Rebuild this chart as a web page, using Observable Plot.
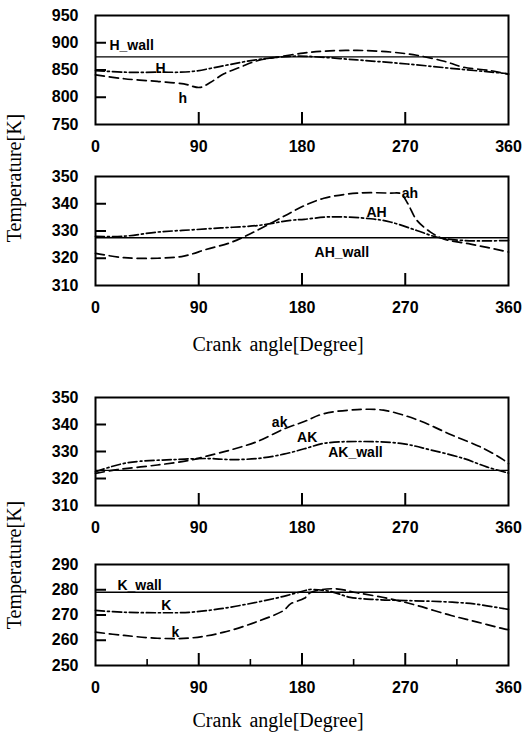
<!DOCTYPE html>
<html><head><meta charset="utf-8">
<script src="https://cdn.jsdelivr.net/npm/d3@7"></script>
<script src="https://cdn.jsdelivr.net/npm/@observablehq/plot@0.6"></script>
<style>
body{margin:0;background:#fff;}
#c{position:relative;width:522px;height:737px;overflow:hidden;background:#fff;}
.p{position:absolute;left:0;}
.t{position:absolute;font-family:"Liberation Serif","DejaVu Serif",serif;font-size:20px;color:#000;white-space:nowrap;line-height:1;word-spacing:3px;}
</style></head><body><div id="c"></div><script>
// ---------- data ----------
const xTickLabels = [0, 90, 180, 270, 360];
const xInnerTicks = [90, 180, 270];
const xMinorTicks = [45, 135, 225, 315];

// Panel 1: H / h
const p1YTicks = [750, 800, 850, 900, 950];
const p1YInner = [800, 850, 900];
const hWall = 874;
const HAngle = [0, 25, 54, 83, 112, 132, 150, 170, 185, 228, 272, 315, 356, 360];
const HTemp  = [849, 846, 846, 847, 858, 866, 871.5, 875, 875, 868.5, 861, 852, 844, 843];
const hAngle = [0, 25, 54, 77, 91, 100, 112, 126, 141, 158, 181, 199, 228, 257, 280, 304, 321, 344, 360];
const hTemp  = [841, 834, 829, 824.5, 818, 827, 843, 855, 867, 873.5, 881, 884.5, 886, 883, 877, 866, 855, 849, 842];
const p1LabelText = ["H_wall", "H", "h"];
const p1LabelX = [31.5, 56.7, 76];
const p1LabelY = [895, 852, 798];

// Panel 2: AH / ah
const p2YTicks = [310, 320, 330, 340, 350];
const p2YInner = [320, 330, 340];
const ahWall = 327.5;
const AHAngle = [0, 25, 54, 83, 112, 141, 170, 182, 205, 240, 257, 280, 298, 321, 360];
const AHTemp  = [328, 328.1, 329.6, 330.4, 331.2, 332, 333.9, 334.3, 335.2, 334.5, 333.3, 330.2, 327.7, 326.5, 326.5];
const ahAngle = [0, 25, 54, 77, 97, 118, 135, 155, 170, 182, 199, 228, 257, 266, 272, 280, 292, 304, 327, 360];
const ahTemp  = [321.8, 320.2, 320, 320.8, 323.3, 325.8, 329, 333.3, 336.7, 339.3, 342, 343.9, 343.9, 343.7, 340.2, 334, 329.6, 327, 325.2, 322.3];
const p2LabelText = ["ah", "AH", "AH_wall"];
const p2LabelX = [274, 245, 214.7];
const p2LabelY = [343.6, 336.9, 322.2];

// Panel 3: AK / ak
const p3YTicks = [310, 320, 330, 340, 350];
const p3YInner = [320, 330, 340];
const akWall = 323;
const AKAngle = [0, 13, 25, 39, 68, 97, 118, 141, 164, 182, 199, 228, 266, 292, 321, 341, 360];
const AKTemp  = [322.5, 324.3, 325.6, 326.4, 327, 327.4, 327, 327.4, 329, 331, 333, 333.7, 333, 330.6, 327.4, 324.3, 322];
const akAngle = [0, 19, 54, 83, 97, 118, 141, 164, 182, 199, 228, 251, 280, 310, 338, 356, 360];
const akTemp  = [321.9, 323.3, 325, 326.8, 328.3, 330.6, 333.7, 338.3, 341.1, 344, 345.5, 345.3, 341.8, 336.2, 331.2, 326.8, 325.5];
const p3LabelText = ["ak", "AK", "AK_wall"];
const p3LabelX = [160.5, 184.5, 226.6];
const p3LabelY = [340.9, 335.3, 329.7];

// Panel 4: K / k
const p4YTicks = [250, 260, 270, 280, 290];
const p4YInner = [260, 270, 280];
const kWall = 279;
const KAngle = [0, 25, 54, 83, 112, 141, 164, 182, 187, 205, 222, 245, 272, 301, 330, 356, 360];
const KTemp  = [271.8, 271.1, 270.9, 271.1, 272.7, 275.1, 277.4, 279.6, 280.1, 279.3, 277, 276.1, 275.7, 275.3, 274.4, 272.5, 272.2];
const kAngle = [0, 25, 54, 83, 112, 141, 164, 170, 182, 188, 208, 228, 257, 280, 310, 333, 356, 360];
const kTemp  = [263.2, 261.9, 260.8, 260.9, 263.2, 267.4, 271.8, 274.4, 276.6, 279, 280.4, 278.8, 276.4, 273.8, 269.8, 267.2, 264.5, 264.2];
const p4LabelText = ["K_wall", "K", "k"];
const p4LabelX = [38.4, 61.8, 69.7];
const p4LabelY = [281.7, 273.8, 263.2];

// ---------- drawing ----------
const C = document.getElementById("c");
const zip = (a, b) => a.map((x, i) => ({x, y: b[i]}));
const DASH = "9,5";
const DASHDOT = "9,3,2,3";
const W = 522, ML = 95, MR = 14, PW = W - ML - MR;

function panel(o) {
  const mb = 45;
  const labels = o.labelText.map((t, i) => ({t, x: o.labelX[i], y: o.labelY[i]}));
  const marks = [
    Plot.ruleY([o.wall], {stroke: "#000", strokeWidth: 1.4}),
    Plot.line(zip(o.dashX, o.dashY), {x: "x", y: "y", curve: "catmull-rom", stroke: "#000", strokeWidth: 1.7, strokeDasharray: DASH}),
    Plot.line(zip(o.ddX, o.ddY), {x: "x", y: "y", curve: "catmull-rom", stroke: "#000", strokeWidth: 1.7, strokeDasharray: DASHDOT}),
    Plot.text(labels, {x: "x", y: "y", text: "t", textAnchor: "middle", fontSize: 14, fontWeight: "bold", fill: "#000"}),
    Plot.tickX(xInnerTicks, {x: d => d, stroke: "#000", strokeWidth: 2, insetTop: o.ph - 12}),
    Plot.tickY(o.yInner, {y: d => d, stroke: "#000", strokeWidth: 2, insetRight: PW - 11}),
    Plot.frame({stroke: "#000", strokeWidth: 2}),
    Plot.axisX(xTickLabels, {tickSize: 0, tickPadding: 16, fontSize: 16, fontWeight: "bold", label: null}),
    Plot.axisY(o.yTicks, {tickSize: 0, tickPadding: 17, fontSize: 16, fontWeight: "bold", label: null})
  ];
  if (o.minor) marks.push(Plot.tickX(xMinorTicks, {x: d => d, stroke: "#000", strokeWidth: 1.6, insetTop: o.ph - 6}));
  const chart = Plot.plot({
    width: W, height: o.mt + o.ph + mb,
    marginTop: o.mt, marginBottom: mb, marginLeft: ML, marginRight: MR,
    x: {domain: [0, 360]}, y: {domain: o.yDomain},
    style: {fontFamily: "'Liberation Sans', Arial, sans-serif", fontSize: "16px", color: "#000", background: "transparent", overflow: "visible"},
    marks
  });
  chart.classList.add("p");
  chart.style.top = o.top + "px";
  C.appendChild(chart);
}

panel({top: 0, mt: 15, ph: 109, yDomain: [750, 950], yTicks: p1YTicks, yInner: p1YInner, wall: hWall,
  dashX: hAngle, dashY: hTemp, ddX: HAngle, ddY: HTemp, labelText: p1LabelText, labelX: p1LabelX, labelY: p1LabelY});
panel({top: 160, mt: 16, ph: 109, yDomain: [310, 350], yTicks: p2YTicks, yInner: p2YInner, wall: ahWall,
  dashX: ahAngle, dashY: ahTemp, ddX: AHAngle, ddY: AHTemp, labelText: p2LabelText, labelX: p2LabelX, labelY: p2LabelY});
panel({top: 380, mt: 17, ph: 108, yDomain: [310, 350], yTicks: p3YTicks, yInner: p3YInner, wall: akWall,
  dashX: akAngle, dashY: akTemp, ddX: AKAngle, ddY: AKTemp, labelText: p3LabelText, labelX: p3LabelX, labelY: p3LabelY});
panel({top: 545, mt: 19, ph: 101, yDomain: [250, 290], yTicks: p4YTicks, yInner: p4YInner, wall: kWall, minor: true,
  dashX: kAngle, dashY: kTemp, ddX: KAngle, ddY: KTemp, labelText: p4LabelText, labelX: p4LabelX, labelY: p4LabelY});

function title(text, cx, cy, rot) {
  const d = document.createElement("div");
  d.className = "t";
  d.textContent = text;
  C.appendChild(d);
  const w = d.offsetWidth, h = d.offsetHeight;
  d.style.left = (cx - w / 2) + "px";
  d.style.top = (cy - h / 2) + "px";
  if (rot) d.style.transform = "rotate(-90deg)";
}
title("Temperature[K]", 14, 178, true);
title("Temperature[K]", 14, 565, true);
title("Crank angle[Degree]", 278, 344, false);
title("Crank angle[Degree]", 278, 720, false);
</script></body></html>
